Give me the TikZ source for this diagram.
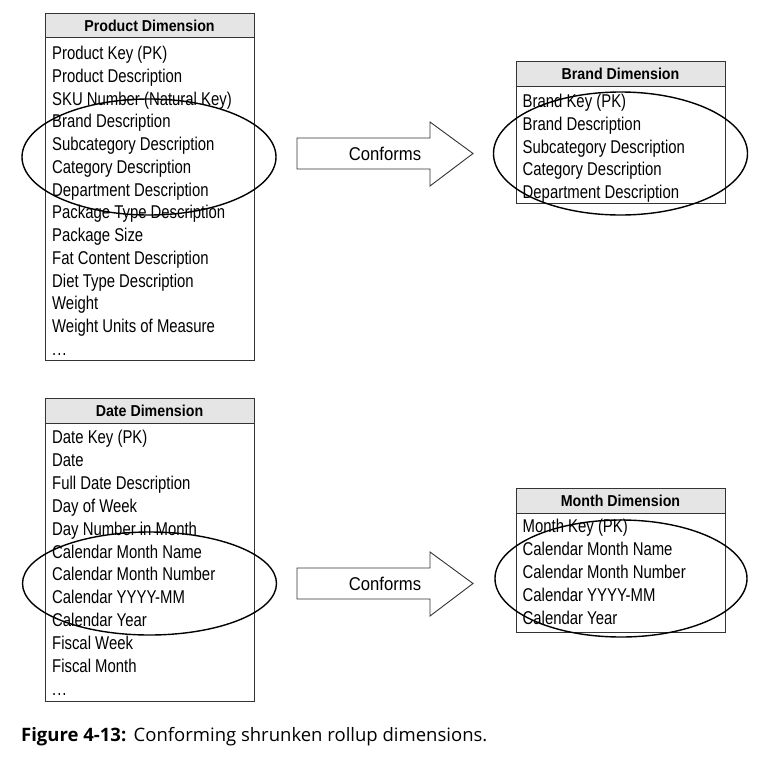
\documentclass[tikz,border=0pt]{standalone}
\usepackage{fontspec}
\setmainfont{Liberation Sans}[FakeStretch=0.805]
\newfontfamily\widerfont{Liberation Sans}[FakeStretch=0.9]
\newfontfamily\capfont{Open Sans}
\begin{document}
\begin{tikzpicture}[x=1pt,y=-1pt,
  tbl/.style={draw=black!80, line width=1pt},
  hdr/.style={draw=black!80, line width=1pt, fill=black!10},
  hdrtext/.style={anchor=base, inner sep=0pt, font=\widerfont\fontsize{15.8}{20}\selectfont\bfseries, text=black},
  rowtext/.style={anchor=base west, inner sep=0pt, font=\fontsize{18.5}{20}\selectfont, text=black},
  ring/.style={draw=black, line width=1.4pt},
  bigarrow/.style={draw=black!80, line width=0.9pt, fill=white},
  arrtext/.style={inner sep=0pt, font=\widerfont\fontsize{18.5}{22}\selectfont, text=black}]
\useasboundingbox (0,0) rectangle (767,772);
\fill[white] (0,0) rectangle (767,772);

% ---------- Product Dimension ----------
\draw[tbl] (45,13) rectangle (254,360);
\draw[hdr] (45,13) rectangle (254,37);
\node[hdrtext] (prodh) at (149.5,31) {Product Dimension};
\foreach \t [count=\i from 0] in {Product Key (PK),Product Description,SKU Number (Natural Key),Brand Description,Subcategory Description,Category Description,Department Description,Package Type Description,Package Size,Fat Content Description,Diet Type Description,Weight,Weight Units of Measure}
  \node[rowtext] (prod\i) at (52,59.5+22.75*\i) {\t};
\node[rowtext] (proddots) at (52,59.5+22.75*13) {.\kern1pt.\kern1pt.};

% ---------- Brand Dimension ----------
\draw[tbl] (516,61) rectangle (725,203);
\draw[hdr] (516,61) rectangle (725,86);
\node[hdrtext] (brandh) at (620.5,79) {Brand Dimension};
\foreach \t [count=\i from 0] in {Brand Key (PK),Brand Description,Subcategory Description,Category Description,Department Description}
  \node[rowtext] (brand\i) at (522.5,107.5+22.75*\i) {\t};

% ---------- Date Dimension ----------
\draw[tbl] (45,398) rectangle (254,701);
\draw[hdr] (45,398) rectangle (254,423);
\node[hdrtext] (dateh) at (149.5,416) {Date Dimension};
\foreach \t [count=\i from 0] in {Date Key (PK),Date,Full Date Description,Day of Week,Day Number in Month,Calendar Month Name,Calendar Month Number,Calendar YYYY-MM,Calendar Year,Fiscal Week,Fiscal Month}
  \node[rowtext] (date\i) at (52,443.5+22.9*\i) {\t};
\node[rowtext] (datedots) at (52,443.5+22.9*11) {.\kern1pt.\kern1pt.};

% ---------- Month Dimension ----------
\draw[tbl] (516,488) rectangle (725,632);
\draw[hdr] (516,488) rectangle (725,513);
\node[hdrtext] (monthh) at (620.5,506) {Month Dimension};
\foreach \t [count=\i from 0] in {Month Key (PK),Calendar Month Name,Calendar Month Number,Calendar YYYY-MM,Calendar Year}
  \node[rowtext] (month\i) at (522.5,532+23.1*\i) {\t};

% ---------- Ellipses ----------
\draw[ring] (149,157) ellipse [x radius=127, y radius=58];
\draw[ring] (620.5,153.5) ellipse [x radius=127, y radius=61.5];
\draw[ring] (149.5,583.5) ellipse [x radius=127, y radius=51.5];
\draw[ring] (621,578.5) ellipse [x radius=126, y radius=58.5];

% ---------- Arrows ----------
\draw[bigarrow] (297,138) -- (430,138) -- (430,122) -- (473,153.5) -- (430,186) -- (430,169) -- (297,169) -- cycle;
\node[arrtext] (conf1) at (385,153.5) {Conforms};
\draw[bigarrow] (297,568) -- (430,568) -- (430,552) -- (473,583.5) -- (430,616) -- (430,599) -- (297,599) -- cycle;
\node[arrtext] (conf2) at (385,583.5) {Conforms};

% ---------- Caption ----------
\node[anchor=base west, inner sep=0pt, font=\capfont\fontsize{18.5}{22}\selectfont, text=black] (cap) at (21,741.5) {\textbf{Figure 4-13:}\hspace{0.4em}Conforming shrunken rollup dimensions.};
\end{tikzpicture}
\end{document}
